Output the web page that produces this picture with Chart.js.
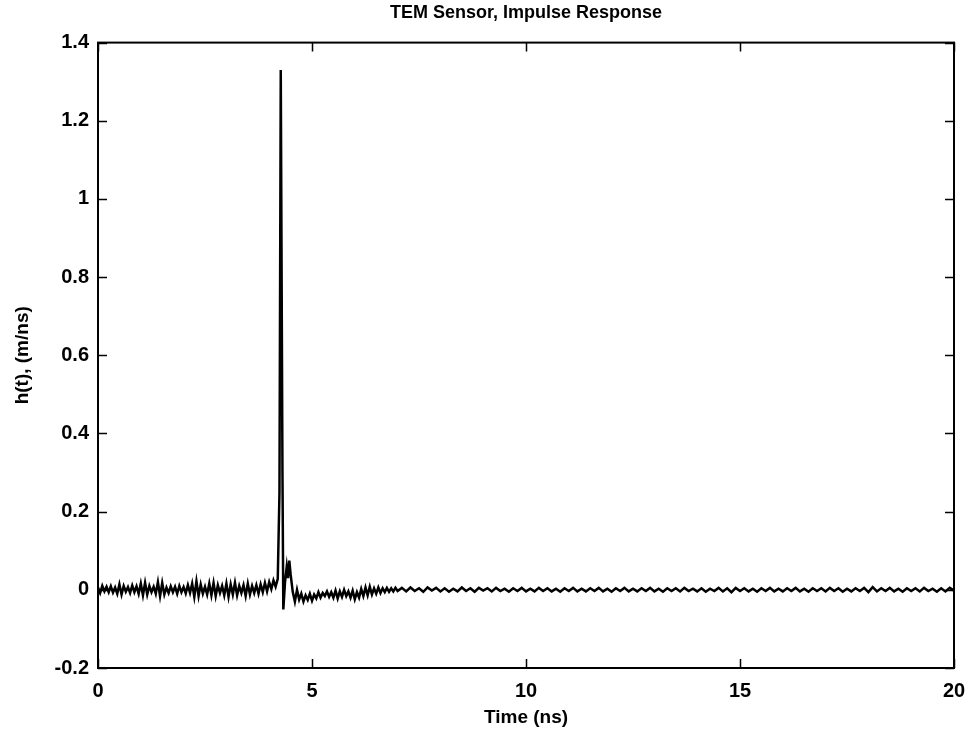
<!DOCTYPE html>
<html>
<head>
<meta charset="utf-8">
<script src="https://cdn.jsdelivr.net/npm/chart.js@4.4.1/dist/chart.umd.min.js"></script>
<style>
  html, body { margin: 0; padding: 0; background: #fff; overflow: hidden; }
  #wrap { width: 972px; height: 740px; }
  canvas { display: block; }
</style>
</head>
<body>
<div id="wrap"><canvas id="chartImpulso"></canvas></div>
<script>
// Datos (tiempo en ns, h(t) en m/ns)
const tiempoNs = [
  0.00, 0.05, 0.10, 0.15, 0.20, 0.25, 0.30, 0.35, 0.40, 0.45,
  0.50, 0.55, 0.60, 0.65, 0.70, 0.75, 0.80, 0.85, 0.90, 0.95,
  1.00, 1.05, 1.10, 1.15, 1.20, 1.25, 1.30, 1.35, 1.40, 1.45,
  1.50, 1.55, 1.60, 1.65, 1.70, 1.75, 1.80, 1.85, 1.90, 1.95,
  2.00, 2.05, 2.10, 2.15, 2.20, 2.25, 2.30, 2.35, 2.40, 2.45,
  2.50, 2.55, 2.60, 2.65, 2.70, 2.75, 2.80, 2.85, 2.90, 2.95,
  3.00, 3.05, 3.10, 3.15, 3.20, 3.25, 3.30, 3.35, 3.40, 3.45,
  3.50, 3.55, 3.60, 3.65, 3.70, 3.75, 3.80, 3.85, 3.90, 3.95,
  4.00, 4.05, 4.10, 4.15,
  4.20, 4.24, 4.27, 4.31, 4.33, 4.37, 4.41, 4.44, 4.47, 4.50,
  4.55, 4.60, 4.65, 4.70, 4.75,
  4.80, 4.85, 4.90, 4.95, 5.00, 5.05, 5.10, 5.15, 5.20, 5.25,
  5.30, 5.35, 5.40, 5.45, 5.50, 5.55, 5.60, 5.65, 5.70, 5.75,
  5.80, 5.85, 5.90, 5.95, 6.00, 6.05, 6.10, 6.15, 6.20, 6.25,
  6.30, 6.35, 6.40, 6.45, 6.50, 6.55, 6.60, 6.65, 6.70, 6.75,
  6.80, 6.85, 6.90, 6.95, 7.00,
  7.1, 7.2, 7.3, 7.4, 7.5, 7.6, 7.7, 7.8, 7.9,
  8.0, 8.1, 8.2, 8.3, 8.4, 8.5, 8.6, 8.7, 8.8, 8.9,
  9.0, 9.1, 9.2, 9.3, 9.4, 9.5, 9.6, 9.7, 9.8, 9.9,
  10.0, 10.1, 10.2, 10.3, 10.4, 10.5, 10.6, 10.7, 10.8, 10.9,
  11.0, 11.1, 11.2, 11.3, 11.4, 11.5, 11.6, 11.7, 11.8, 11.9,
  12.0, 12.1, 12.2, 12.3, 12.4, 12.5, 12.6, 12.7, 12.8, 12.9,
  13.0, 13.1, 13.2, 13.3, 13.4, 13.5, 13.6, 13.7, 13.8, 13.9,
  14.0, 14.1, 14.2, 14.3, 14.4, 14.5, 14.6, 14.7, 14.8, 14.9,
  15.0, 15.1, 15.2, 15.3, 15.4, 15.5, 15.6, 15.7, 15.8, 15.9,
  16.0, 16.1, 16.2, 16.3, 16.4, 16.5, 16.6, 16.7, 16.8, 16.9,
  17.0, 17.1, 17.2, 17.3, 17.4, 17.5, 17.6, 17.7, 17.8, 17.9,
  18.0, 18.1, 18.2, 18.3, 18.4, 18.5, 18.6, 18.7, 18.8, 18.9,
  19.0, 19.1, 19.2, 19.3, 19.4, 19.5, 19.6, 19.7, 19.8, 19.9,
  20.0
];

const respuestaH = [
  0.006, -0.008, 0.010, -0.004, 0.008, -0.006, 0.009, -0.007, 0.006, -0.010,
  0.014, -0.012, 0.010, -0.005, 0.007, -0.008, 0.011, -0.006, 0.009, -0.010,
  0.016, -0.014, 0.018, -0.012, 0.010, -0.006, 0.008, -0.010, 0.020, -0.016,
  0.018, -0.012, 0.006, -0.008, 0.009, -0.006, 0.008, -0.010, 0.010, -0.006,
  0.007, -0.009, 0.012, -0.008, 0.016, -0.018, 0.022, -0.016, 0.014, -0.010,
  0.008, -0.012, 0.016, -0.014, 0.018, -0.016, 0.012, -0.008, 0.010, -0.014,
  0.016, -0.018, 0.014, -0.012, 0.018, -0.014, 0.010, -0.008, 0.012, -0.016,
  0.016, -0.012, 0.010, -0.008, 0.012, -0.010, 0.014, -0.006, 0.018, -0.004,
  0.020, 0.002, 0.024, 0.008,
  0.028, 0.25, 1.33, 0.30, -0.05, 0.02, 0.06, 0.03, 0.075, 0.04,
  -0.005, -0.03, 0.0, -0.025, -0.010,
  -0.030, -0.014, -0.026, -0.010, -0.028, -0.012, -0.022, -0.006, -0.020, -0.008,
  -0.016, -0.004, -0.018, -0.006, -0.020, -0.002, -0.022, -0.004, -0.018, 0.000,
  -0.016, -0.004, -0.020, -0.002, -0.024, -0.006, -0.020, 0.002, -0.016, 0.006,
  -0.014, 0.008, -0.012, 0.004, -0.010, 0.006, -0.008, 0.004, -0.006, 0.005,
  -0.005, 0.004, -0.004, 0.005, -0.003,
  0.005, -0.004, 0.006, -0.003, 0.004, -0.005, 0.006, -0.002, 0.005,
  -0.004, 0.004, -0.005, 0.003, -0.004, 0.006, -0.003, 0.004, -0.005, 0.005,
  -0.002, 0.004, -0.004, 0.005, -0.003, 0.003, -0.005, 0.004, -0.003, 0.005,
  -0.004, 0.003, -0.004, 0.005, -0.003, 0.004, -0.004, 0.003, -0.005, 0.004,
  -0.003, 0.005, -0.004, 0.003, -0.004, 0.004, -0.003, 0.005, -0.004, 0.003,
  -0.005, 0.004, -0.003, 0.005, -0.004, 0.003, -0.004, 0.004, -0.003, 0.005,
  -0.004, 0.003, -0.005, 0.004, -0.003, 0.004, -0.004, 0.005, -0.003, 0.003,
  -0.004, 0.004, -0.005, 0.003, -0.003, 0.005, -0.004, 0.004, -0.006, 0.005,
  -0.003, 0.004, -0.004, 0.003, -0.005, 0.004, -0.003, 0.005, -0.004, 0.003,
  -0.004, 0.004, -0.003, 0.005, -0.004, 0.003, -0.005, 0.004, -0.003, 0.004,
  -0.004, 0.005, -0.003, 0.004, -0.005, 0.003, -0.004, 0.004, -0.003, 0.005,
  -0.006, 0.007, -0.004, 0.004, -0.003, 0.005, -0.004, 0.003, -0.005, 0.004,
  -0.003, 0.004, -0.004, 0.005, -0.003, 0.003, -0.005, 0.004, -0.004, 0.005,
  -0.002
];

const ticksX = [0, 5, 10, 15, 20];
const ticksY = [-0.2, 0, 0.2, 0.4, 0.6, 0.8, 1, 1.2, 1.4];

const fuente = "'Liberation Sans', Arial, Helvetica, sans-serif";

// Marco del area de trazado con marcas hacia adentro (estilo MATLAB)
const marcoPlugin = {
    id: "marco",
    afterDraw(chart) {
        const ctx = chart.ctx;
        const a = chart.chartArea;
        const sx = chart.scales.x;
        const sy = chart.scales.y;
        const largo = 9;
        ctx.save();
        ctx.strokeStyle = "#000";
        ctx.lineWidth = 1.5;
        ctx.beginPath();
        ticksX.forEach(v => {
            const px = Math.round(sx.getPixelForValue(v)) + 0.5;
            ctx.moveTo(px, a.bottom); ctx.lineTo(px, a.bottom - largo);
            ctx.moveTo(px, a.top); ctx.lineTo(px, a.top + largo);
        });
        ticksY.forEach(v => {
            const py = Math.round(sy.getPixelForValue(v)) + 0.5;
            ctx.moveTo(a.left, py); ctx.lineTo(a.left + largo, py);
            ctx.moveTo(a.right, py); ctx.lineTo(a.right - largo, py);
        });
        ctx.stroke();
        ctx.lineWidth = 2;
        ctx.strokeRect(a.left, a.top, a.right - a.left, a.bottom - a.top);
        ctx.restore();
    }
};

var ctxImpulso = document.getElementById("chartImpulso").getContext("2d");
var chartImpulso = new Chart(ctxImpulso, {
    type: "line",
    data: {
        datasets: [{
            label: "h(t)",
            data: tiempoNs.map((t, i) => ({ x: t, y: respuestaH[i] })),
            borderColor: "#000",
            borderWidth: 2.5,
            pointRadius: 0,
            tension: 0,
            fill: false
        }]
    },
    options: {
        responsive: true,
        maintainAspectRatio: false,
        animation: false,
        layout: { padding: { top: 0, right: 18, bottom: 0, left: 0 } },
        plugins: {
            legend: { display: false },
            tooltip: { enabled: false },
            title: {
                display: true,
                text: "TEM Sensor, Impulse Response",
                fullSize: false,
                color: "#000",
                font: { family: fuente, size: 18, weight: "bold" },
                padding: { top: 2, bottom: 19 }
            }
        },
        scales: {
            x: {
                type: "linear",
                min: 0,
                max: 20,
                grid: { display: false, drawTicks: false },
                border: { display: false },
                afterBuildTicks: s => { s.ticks = ticksX.map(v => ({ value: v })); },
                afterFit: s => { s.height = 72; s.paddingLeft = 0; s.paddingRight = 0; },
                ticks: {
                    color: "#000",
                    padding: 11,
                    maxRotation: 0,
                    font: { family: fuente, size: 20, weight: "bold" },
                    callback: v => String(v)
                },
                title: {
                    display: true,
                    text: "Time (ns)",
                    color: "#000",
                    font: { family: fuente, size: 19, weight: "bold" },
                    padding: { top: 0, bottom: 11 }
                }
            },
            y: {
                type: "linear",
                min: -0.2,
                max: 1.4,
                grid: { display: false, drawTicks: false },
                border: { display: false },
                afterBuildTicks: s => { s.ticks = ticksY.map(v => ({ value: v })); },
                afterFit: s => { s.width = 98; s.paddingTop = 0; s.paddingBottom = 0; },
                ticks: {
                    color: "#000",
                    padding: 9,
                    font: { family: fuente, size: 20, weight: "bold" },
                    callback: v => String(parseFloat(Number(v).toFixed(1)))
                },
                title: {
                    display: true,
                    text: "h(t), (m/ns)",
                    color: "#000",
                    font: { family: fuente, size: 19, weight: "bold" },
                    padding: { top: 11, bottom: 0 }
                }
            }
        }
    },
    plugins: [marcoPlugin]
});
</script>
</body>
</html>
